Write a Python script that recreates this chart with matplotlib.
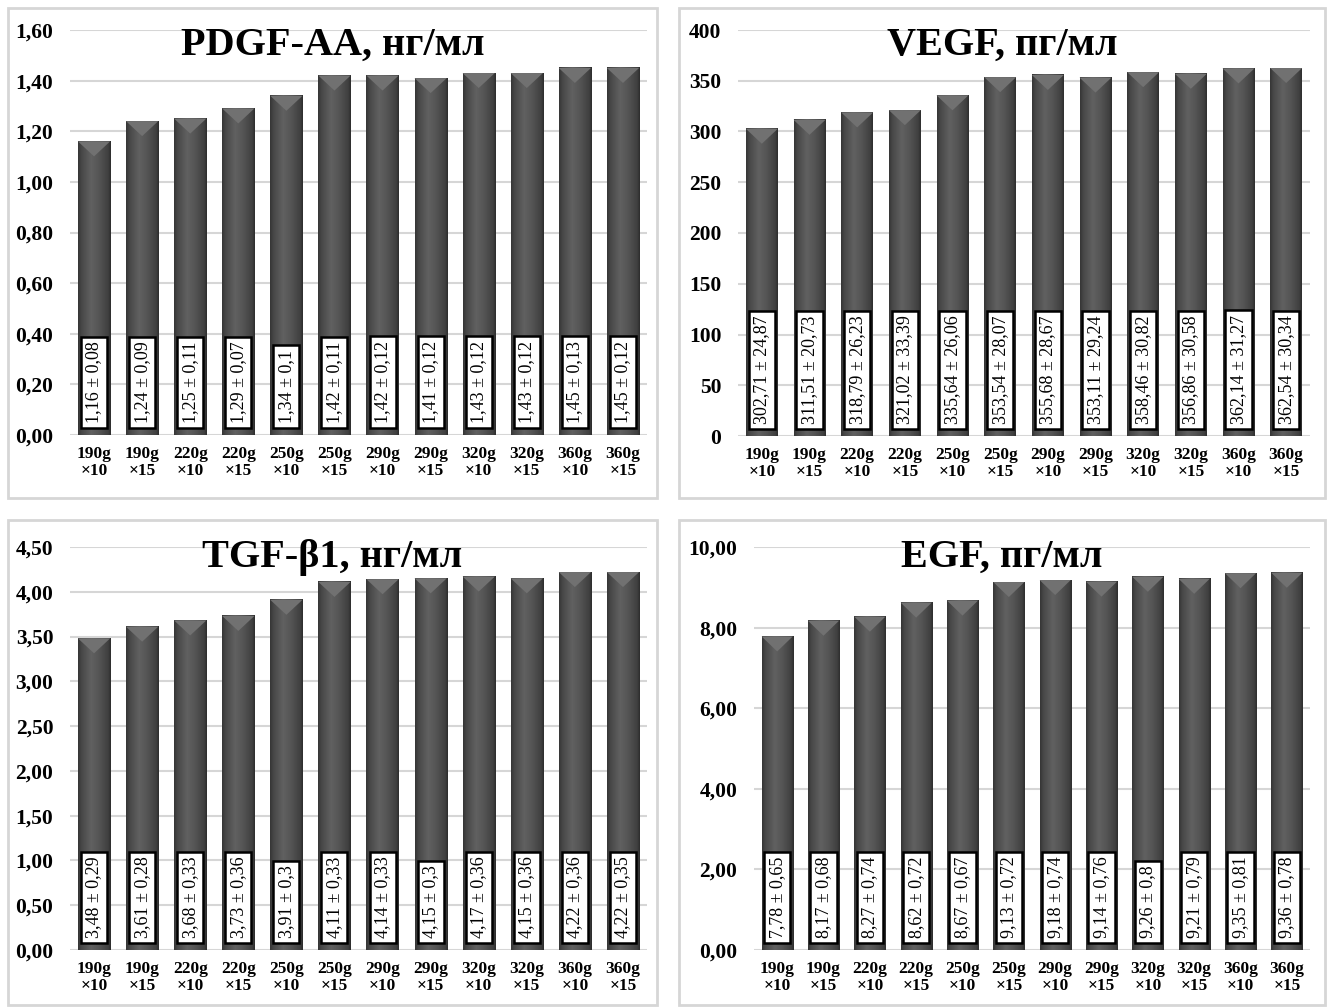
"""
Growth factor levels, four bar panels (PDGF-AA, VEGF, TGF-b1, EGF)
"""
import numpy as np
import matplotlib
matplotlib.use('Agg')
import matplotlib.pyplot as plt
from matplotlib.patches import Rectangle, Polygon
from matplotlib.ticker import FuncFormatter

plt.rcParams['font.family'] = ['Liberation Serif', 'DejaVu Serif']

W, H = 1332, 1008

groups = ['190g\n×10', '190g\n×15', '220g\n×10', '220g\n×15', '250g\n×10', '250g\n×15',
          '290g\n×10', '290g\n×15', '320g\n×10', '320g\n×15', '360g\n×10', '360g\n×15']

pdgf_mean = [1.16, 1.24, 1.25, 1.29, 1.34, 1.42, 1.42, 1.41, 1.43, 1.43, 1.45, 1.45]
pdgf_sd = [0.08, 0.09, 0.11, 0.07, 0.1, 0.11, 0.12, 0.12, 0.12, 0.12, 0.13, 0.12]

vegf_mean = [302.71, 311.51, 318.79, 321.02, 335.64, 353.54, 355.68, 353.11, 358.46, 356.86, 362.14, 362.54]
vegf_sd = [24.87, 20.73, 26.23, 33.39, 26.06, 28.07, 28.67, 29.24, 30.82, 30.58, 31.27, 30.34]

tgf_mean = [3.48, 3.61, 3.68, 3.73, 3.91, 4.11, 4.14, 4.15, 4.17, 4.15, 4.22, 4.22]
tgf_sd = [0.29, 0.28, 0.33, 0.36, 0.3, 0.33, 0.33, 0.3, 0.36, 0.36, 0.36, 0.35]

egf_mean = [7.78, 8.17, 8.27, 8.62, 8.67, 9.13, 9.18, 9.14, 9.26, 9.21, 9.35, 9.36]
egf_sd = [0.65, 0.68, 0.74, 0.72, 0.67, 0.72, 0.74, 0.76, 0.8, 0.79, 0.81, 0.78]

# panel: title, means, sds, yticks, decimals, axes box (px), frame box (px)
panels = [
    ('PDGF-AA, нг/мл', pdgf_mean, pdgf_sd, np.arange(0, 1.61, 0.2), 2, (70, 647, 30, 435), (8, 657, 8, 498)),
    ('VEGF, пг/мл', vegf_mean, vegf_sd, np.arange(0, 401, 50), 0, (738, 1310, 30, 436), (679, 1325, 8, 498)),
    ('TGF-β1, нг/мл', tgf_mean, tgf_sd, np.arange(0, 4.51, 0.5), 2, (70, 647, 547, 950), (8, 657, 520, 1005)),
    ('EGF, пг/мл', egf_mean, egf_sd, np.arange(0, 10.01, 2), 2, (754, 1310, 547, 950), (679, 1325, 520, 1005)),
]

# horizontal shading of the bars
t = np.linspace(0, 1, 64)
shade = np.interp(t, [0, 0.1, 0.4, 0.65, 0.92, 1], [0.21, 0.28, 0.38, 0.33, 0.25, 0.18])
grad = np.dstack([shade, shade, shade])


def comma(v):
    return str(v).replace('.', ',')


fig = plt.figure(figsize=(W / 100, H / 100), dpi=100)

for title, means, sds, yticks, dec, (l, r, tp, bt), (fl, fr, ft, fb) in panels:
    # panel frame
    fig.patches.append(Rectangle((fl / W, 1 - fb / H), (fr - fl) / W, (fb - ft) / H,
                                 transform=fig.transFigure, fill=False,
                                 ec='#d6d6d6', lw=2, zorder=0))
    ax = fig.add_axes([l / W, 1 - bt / H, (r - l) / W, (bt - tp) / H])
    x = np.arange(len(groups))
    bw = 0.67
    ymax = yticks[-1]
    ax.bar(x, means, width=bw, color='#3a3a3a', zorder=2)
    tri = 15 * ymax / (bt - tp)
    for xi, m, s in zip(x, means, sds):
        ax.imshow(grad, extent=(xi - bw / 2, xi + bw / 2, 0, m), aspect='auto',
                  zorder=3, interpolation='bilinear')
        ax.add_patch(Polygon([(xi - bw / 2, m), (xi + bw / 2, m), (xi, m - tri)],
                             closed=True, fc='#717171', ec='none', zorder=4))
        ax.annotate(f'{comma(m)} ± {comma(s)}', xy=(xi, 0), xytext=(0, 12),
                    textcoords='offset pixels', rotation=90, ha='center', va='bottom',
                    fontsize=13, zorder=6,
                    bbox=dict(boxstyle='square,pad=0.25', fc='white', ec='black', lw=1.8))
    ax.set_xlim(-0.5, len(groups) - 0.5)
    ax.set_ylim(0, ymax)
    ax.set_yticks(yticks)
    if dec:
        ax.yaxis.set_major_formatter(FuncFormatter(lambda v, p: f'{v:.2f}'.replace('.', ',')))
    else:
        ax.yaxis.set_major_formatter(FuncFormatter(lambda v, p: f'{v:.0f}'))
    ax.set_xticks(x)
    ax.set_xticklabels(groups, fontsize=12.5, fontweight='bold', linespacing=1.1)
    ax.tick_params(axis='y', length=0, pad=12, labelsize=15.5)
    ax.tick_params(axis='x', length=0, pad=8)
    for lbl in ax.get_yticklabels():
        lbl.set_fontweight('bold')
    ax.grid(axis='y', color='#d6d6d6', lw=1.5, zorder=0)
    ax.set_axisbelow(True)
    for sp in ax.spines.values():
        sp.set_visible(False)
    fig.text((fl + fr) / 2 / W, 1 - (ft + 37) / H, title, ha='center', va='center',
             fontsize=29, fontweight='bold', zorder=10)

fig.savefig('out.png', dpi=100)
